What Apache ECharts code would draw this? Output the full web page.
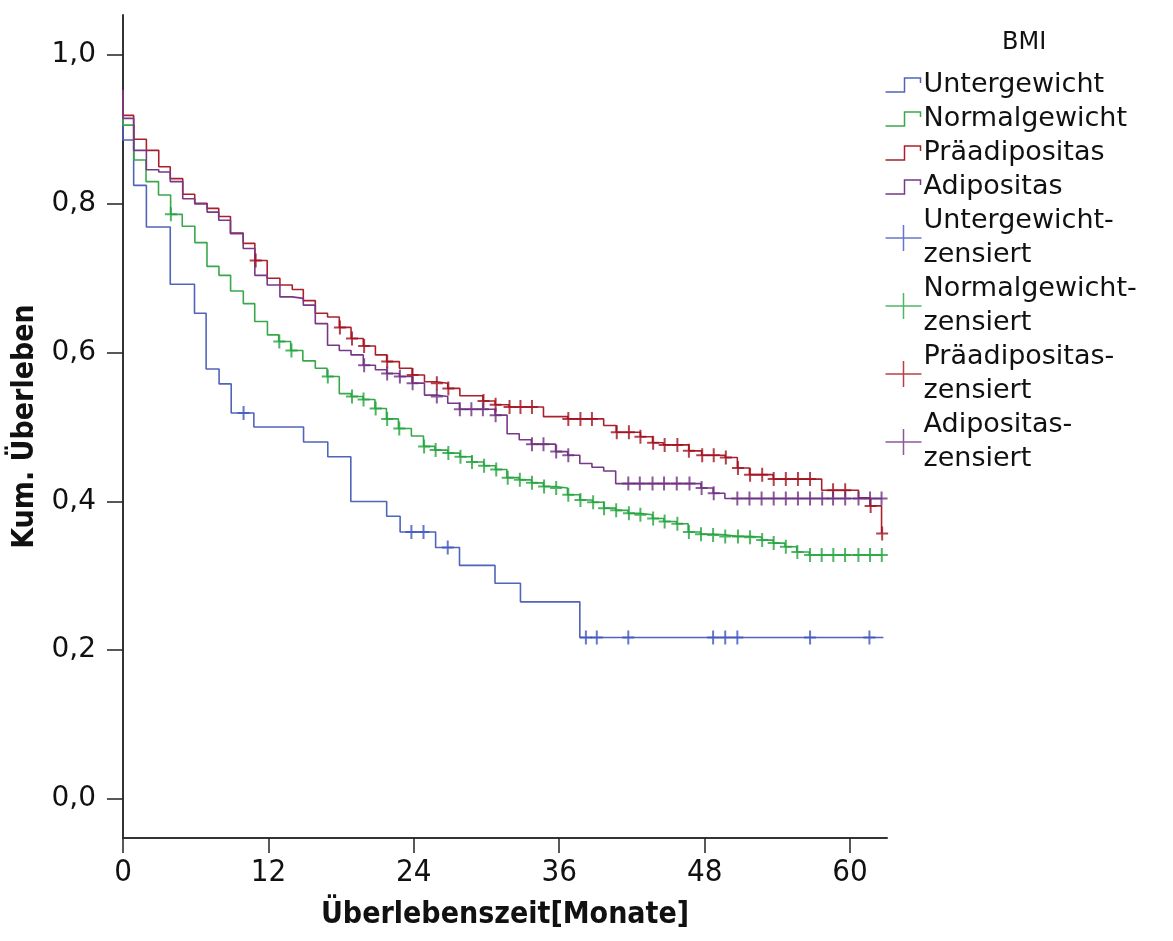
<!DOCTYPE html>
<html>
<head>
<meta charset="utf-8">
<script src="https://cdn.jsdelivr.net/npm/echarts@6/dist/echarts.min.js"></script>
<style>
  html, body { margin: 0; padding: 0; background: #fff; }
  #chart { width: 1173px; height: 941px; }
</style>
</head>
<body>
<div id="chart"></div>
<script>
// ticks
const xTicks = [0, 12, 24, 36, 48, 60]
const yTicks = [0, 0.2, 0.4, 0.6, 0.8, 1.0]

// Kaplan-Meier steps: time (months) where the curve drops, and the level after the drop
const unterT = [0, 0, 0.88, 1.93, 3.9, 5.9, 6.86, 7.93, 8.93, 10.8, 14.9, 16.9, 18.8, 21.76, 22.87, 25.8, 27.77, 30.7, 32.8, 37.7]
const unterS = [0.953, 0.886, 0.825, 0.769, 0.692, 0.653, 0.578, 0.558, 0.519, 0.500, 0.480, 0.460, 0.400, 0.380, 0.359, 0.338, 0.314, 0.290, 0.265, 0.217]
const unterEnd = 62.75
const unterCens = [9.95, 23.8, 24.8, 26.8, 38.2, 39.1, 41.7, 48.7, 49.7, 50.7, 56.7, 61.6]

const normalT = [0, 0, 0.91, 1.9, 2.93, 3.93, 4.89, 5.93, 6.93, 7.92, 8.88, 9.93, 10.87, 11.92, 12.85, 13.84, 14.84, 15.87, 16.84, 17.85,
  18.83, 19.81, 20.79, 21.74, 22.73, 23.8, 24.8, 25.74, 26.8, 27.8, 28.78, 29.77, 30.74, 31.68, 32.7, 33.72, 34.69, 35.7, 36.68, 37.69,
  38.74, 39.67, 40.66, 41.68, 42.64, 43.69, 44.63, 45.68, 46.64, 47.66, 48.65, 49.67, 50.69, 51.68, 52.7, 53.66, 54.63, 55.6, 56.64]
const normalS = [0.953, 0.906, 0.859, 0.830, 0.812, 0.786, 0.770, 0.748, 0.716, 0.704, 0.683, 0.666, 0.642, 0.624, 0.615, 0.603, 0.589, 0.579, 0.568, 0.545,
  0.541, 0.537, 0.525, 0.511, 0.498, 0.488, 0.474, 0.469, 0.465, 0.460, 0.453, 0.448, 0.443, 0.432, 0.429, 0.425, 0.420, 0.418, 0.409, 0.402,
  0.399, 0.391, 0.388, 0.384, 0.382, 0.377, 0.373, 0.370, 0.359, 0.356, 0.355, 0.353, 0.353, 0.352, 0.348, 0.344, 0.339, 0.332, 0.328]
const normalEnd = 62.7
const normalCens = [3.95, 12.9, 13.9, 16.9, 18.9, 19.85, 20.85, 21.8, 22.8, 24.85, 25.8, 26.85, 27.85, 28.8, 29.8, 30.8, 31.75, 32.75,
  33.75, 34.75, 35.75, 36.75, 37.75, 38.8, 39.7, 40.7, 41.75, 42.7, 43.75, 44.7, 45.75, 46.7, 47.7, 48.7, 49.7, 50.75, 51.75, 52.75,
  53.7, 54.7, 55.65, 56.7, 57.66, 58.62, 59.59, 60.69, 61.65, 62.62]

const praeT = [0, 0, 0.88, 1.93, 2.95, 3.9, 4.93, 5.92, 6.94, 7.9, 8.87, 9.92, 10.88, 11.9, 12.95, 13.97, 14.88, 15.87, 16.88, 17.85,
  18.82, 19.83, 20.83, 21.76, 22.81, 23.86, 24.88, 25.84, 26.8, 27.8, 29.7, 30.7, 31.85, 34.7, 36.7, 39.67, 40.7, 42.7, 43.7, 44.6,
  46.7, 47.75, 49.7, 50.7, 51.7, 53.66, 57.66, 60.7, 61.65, 62.6]
const praeS = [0.953, 0.919, 0.887, 0.872, 0.850, 0.834, 0.813, 0.801, 0.794, 0.783, 0.761, 0.747, 0.724, 0.700, 0.691, 0.685, 0.670, 0.653, 0.648, 0.634,
  0.619, 0.609, 0.597, 0.588, 0.579, 0.570, 0.561, 0.559, 0.552, 0.542, 0.535, 0.530, 0.527, 0.514, 0.511, 0.502, 0.493, 0.487, 0.479, 0.476,
  0.468, 0.462, 0.459, 0.445, 0.436, 0.430, 0.415, 0.405, 0.394, 0.357]
const praeEnd = 62.65
const praeCens = [10.95, 17.9, 18.9, 19.9, 21.8, 23.9, 25.9, 26.85, 29.75, 30.75, 31.9, 32.8, 33.75, 36.75, 37.75, 38.7, 40.75, 41.75,
  42.7, 43.75, 44.7, 45.75, 46.7, 47.8, 48.75, 49.75, 50.75, 51.75, 52.75, 53.7, 54.7, 55.7, 56.7, 58.6, 59.6, 61.7, 62.65]

const adiT = [0, 0, 0.88, 1.93, 2.95, 3.9, 4.93, 5.92, 6.94, 7.9, 8.87, 9.92, 10.88, 11.9, 12.95, 13.97, 14.88, 15.87, 16.88, 17.85,
  18.82, 19.83, 20.83, 21.76, 22.81, 23.86, 24.88, 25.84, 26.8, 27.77, 30.7, 31.7, 32.7, 33.7, 35.7, 36.7, 37.7, 38.7, 39.67, 40.66,
  47.7, 48.7, 49.67]
const adiS = [0.953, 0.915, 0.872, 0.846, 0.843, 0.830, 0.807, 0.800, 0.789, 0.778, 0.760, 0.740, 0.704, 0.691, 0.675, 0.673, 0.664, 0.639, 0.610, 0.603,
  0.597, 0.583, 0.577, 0.572, 0.568, 0.559, 0.543, 0.541, 0.532, 0.524, 0.516, 0.491, 0.483, 0.477, 0.467, 0.462, 0.451, 0.446, 0.441, 0.424,
  0.418, 0.411, 0.404]
const adiEnd = 62.65
const adiCens = [19.9, 21.8, 22.85, 23.9, 25.9, 27.8, 28.75, 29.7, 30.75, 33.75, 34.7, 35.75, 36.75, 41.7, 42.65, 43.7, 44.65, 45.7,
  46.75, 47.75, 48.75, 50.7, 51.7, 52.7, 53.7, 54.7, 55.7, 56.7, 57.7, 58.6, 59.6, 60.7, 61.65, 62.6]

const groups = ['Untergewicht', 'Normalgewicht', 'Präadipositas', 'Adipositas']
const lineColors = ['#5064bb', '#38a84a', '#aa212d', '#763887']
const censColors = ['#3f55c0', '#22a43e', '#a3101e', '#6e2f80']

const curves = [
  { t: unterT, s: unterS, end: unterEnd, cens: unterCens },
  { t: normalT, s: normalS, end: normalEnd, cens: normalCens },
  { t: praeT, s: praeS, end: praeEnd, cens: praeCens },
  { t: adiT, s: adiS, end: adiEnd, cens: adiCens }
]

const stepData = c => {
  const d = c.t.map((v, i) => [v, c.s[i]])
  d.push([c.end, c.s[c.s.length - 1]])
  return d
}

const survAt = (c, time) => {
  let v = c.s[0]
  c.t.forEach((t, i) => { if (t <= time) v = c.s[i] })
  return v
}

const plusPath = 'path://M5,0 L7,0 L7,6 L12,6 L12,8 L7,8 L7,14 L5,14 L5,8 L0,8 L0,6 L5,6 Z'
const stepIcon = 'path://M0,0 M36,26 M0,20 L19,20 L19,6 L35,6 L35,11'
const plusIcon = 'path://M0,0 M36,26 M0,13 L36,13 M18,0 L18,26'

const condensed = '"Liberation Sans Narrow", "DejaVu Sans Condensed", sans-serif'

const series = []
curves.forEach((c, i) => {
  series.push({
    name: groups[i],
    type: 'line',
    step: 'end',
    data: stepData(c),
    showSymbol: false,
    symbol: 'none',
    lineStyle: { color: lineColors[i], width: 1.6 },
    itemStyle: { color: lineColors[i] },
    z: 2 + i
  })
})
curves.forEach((c, i) => {
  series.push({
    name: groups[i] + '-zensiert',
    type: 'scatter',
    data: c.cens.map(t => [t, survAt(c, t)]),
    symbol: plusPath,
    symbolSize: [12, 14],
    itemStyle: { color: censColors[i] },
    z: 10 + i
  })
})

const legendData = []
groups.forEach((g, i) => {
  legendData.push({ name: g, icon: stepIcon, itemStyle: { color: 'none', borderColor: lineColors[i], borderWidth: 1.5 } })
})
groups.forEach((g, i) => {
  legendData.push({ name: g + '-zensiert', icon: plusIcon, itemStyle: { color: 'none', borderColor: censColors[i], borderWidth: 1.5 } })
})

const chart = echarts.init(document.getElementById('chart'))
chart.setOption({
  animation: false,
  backgroundColor: '#fff',
  title: {
    text: 'BMI',
    left: 1002,
    top: 31,
    padding: 0,
    textStyle: { fontFamily: 'DejaVu Sans', fontSize: 24, fontWeight: 'normal', color: '#111' }
  },
  legend: {
    orient: 'vertical',
    left: 883,
    top: 68,
    padding: 0,
    itemGap: 0,
    itemWidth: 36,
    itemHeight: 26,
    selectedMode: false,
    data: legendData,
    formatter: name => name.replace('-', '-\n'),
    textStyle: { fontFamily: 'DejaVu Sans', fontSize: 27, lineHeight: 34, color: '#111', padding: [0, 0, 0, -3] }
  },
  grid: { left: 123, right: 286, top: 15, bottom: 103 },
  xAxis: {
    type: 'value',
    min: 0,
    max: 63.05,
    name: 'Überlebenszeit[Monate]',
    nameLocation: 'middle',
    nameGap: 62,
    nameTextStyle: { fontFamily: condensed, fontSize: 30, fontWeight: 'bold', color: '#111' },
    axisLine: { onZero: false, lineStyle: { color: '#333', width: 2 } },
    axisTick: { customValues: xTicks, length: 15, lineStyle: { color: '#222', width: 1.5 } },
    axisLabel: {
      customValues: xTicks,
      margin: 19,
      fontFamily: condensed,
      fontSize: 31,
      color: '#111'
    },
    splitLine: { show: false }
  },
  yAxis: {
    type: 'value',
    min: -0.0525,
    max: 1.054,
    name: 'Kum. Überleben',
    nameLocation: 'middle',
    nameGap: 78,
    nameTextStyle: { fontFamily: condensed, fontSize: 30, fontWeight: 'bold', color: '#111' },
    axisLine: { onZero: false, lineStyle: { color: '#333', width: 2 } },
    axisTick: { customValues: yTicks, length: 16, lineStyle: { color: '#222', width: 1.5 } },
    axisLabel: {
      customValues: yTicks,
      margin: 27,
      fontFamily: 'DejaVu Sans',
      fontSize: 28,
      color: '#111',
      formatter: v => v.toFixed(1).replace('.', ',')
    },
    splitLine: { show: false }
  },
  series
})
</script>
</body>
</html>
